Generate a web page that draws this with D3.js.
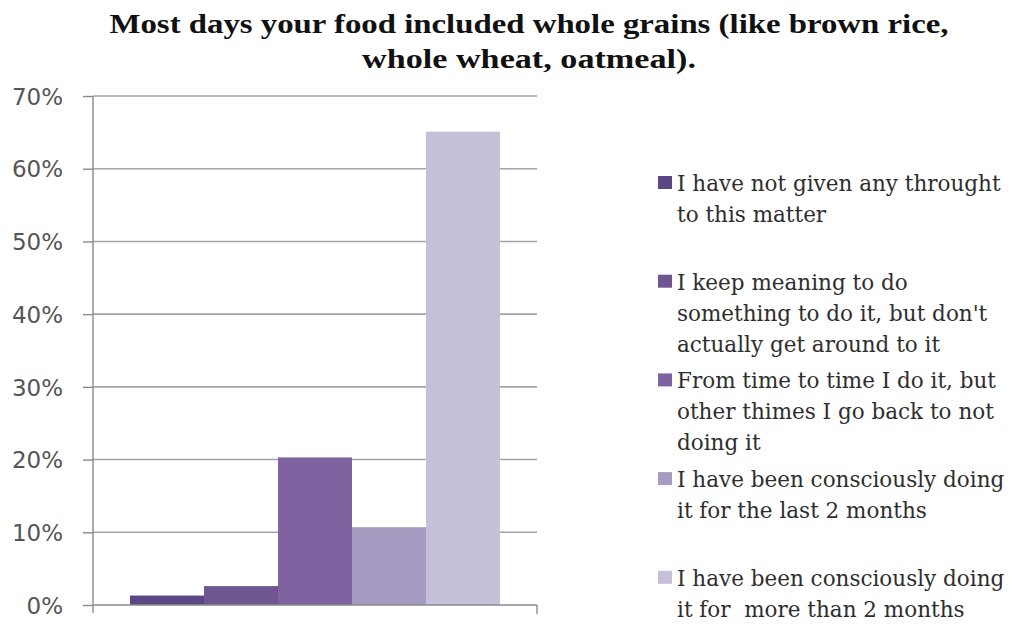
<!DOCTYPE html>
<html>
<head>
<meta charset="utf-8">
<script src="https://cdn.jsdelivr.net/npm/d3@7"></script>
<style>
  html, body { margin: 0; padding: 0; background: #ffffff; }
  svg { display: block; }
</style>
</head>
<body>
<svg id="chart" width="1016" height="624"></svg>
<script>
// Survey responses: share of respondents per stage of change
const titleLines = [
  "Most days your food included whole grains (like brown rice,",
  "whole wheat, oatmeal)."
];
const series = [
  "I have not given any throught to this matter",
  "I keep meaning to do something to do it, but don't actually get around to it",
  "From time to time I do it, but other thimes I go back to not doing it",
  "I have been consciously doing it for the last 2 months",
  "I have been consciously doing it for  more than 2 months"
];
const legendLines = [
  ["I have not given any throught", "to this matter"],
  ["I keep meaning to do", "something to do it, but don't", "actually get around to it"],
  ["From time to time I do it, but", "other thimes I go back to not", "doing it"],
  ["I have been consciously doing", "it for the last 2 months"],
  ["I have been consciously doing", "it for  more than 2 months"]
];
const values = [0.013, 0.026, 0.203, 0.107, 0.651];
const colors = ["#5a4784", "#6e5791", "#7f63a1", "#a69bc0", "#c6bfd8"];
const yTicks = [0, 0.1, 0.2, 0.3, 0.4, 0.5, 0.6, 0.7];

const svg = d3.select("#chart");

const plot = { left: 93, right: 537, top: 96, bottom: 605 };

const y = d3.scaleLinear().domain([0, 0.7]).range([plot.bottom, plot.top]);
const x = d3.scaleBand()
  .domain(series)
  .range([plot.left, plot.right])
  .paddingInner(0)
  .paddingOuter(0.5);

// Title
const title = svg.append("g");
const titleWidths = [839, 334];
titleLines.forEach((t, i) => {
  title.append("text")
    .attr("x", 529)
    .attr("y", 33 + i * 35)
    .attr("text-anchor", "middle")
    .attr("textLength", titleWidths[i])
    .attr("lengthAdjust", "spacingAndGlyphs")
    .style("font-family", "'Liberation Serif', 'Times New Roman', serif")
    .style("font-weight", "bold")
    .style("font-size", "28px")
    .style("fill", "#111111")
    .text(t);
});

// Horizontal gridlines
svg.append("g")
  .selectAll("line")
  .data(yTicks.filter(d => d > 0))
  .join("line")
  .attr("x1", plot.left)
  .attr("x2", plot.right)
  .attr("y1", d => y(d))
  .attr("y2", d => y(d))
  .attr("stroke", "#a3a3a3")
  .attr("stroke-width", 1.6);

// Value axis with outside ticks
const yAxis = d3.axisLeft(y)
  .tickValues(yTicks)
  .tickFormat(d3.format(".0%"))
  .tickSize(10)
  .tickPadding(20);

const yg = svg.append("g")
  .attr("transform", `translate(${plot.left},0)`)
  .call(yAxis);
yg.select(".domain")
  .attr("d", `M0,${plot.top}V${plot.bottom + 8}`)
  .attr("stroke", "#8a8a8a")
  .attr("stroke-width", 1.4);
yg.selectAll(".tick line")
  .attr("stroke", "#8a8a8a")
  .attr("stroke-width", 1.4);
yg.selectAll(".tick text")
  .attr("dy", "0.36em")
  .style("font-family", "'DejaVu Sans', Verdana, sans-serif")
  .style("font-size", "23px")
  .style("fill", "#555555");

// Bars
svg.append("g")
  .selectAll("rect")
  .data(series)
  .join("rect")
  .attr("x", d => x(d))
  .attr("width", x.bandwidth())
  .attr("y", (d, i) => y(values[i]))
  .attr("height", (d, i) => y(0) - y(values[i]))
  .attr("fill", (d, i) => colors[i]);

// Category axis baseline with end ticks
const xg = svg.append("g");
xg.append("line")
  .attr("x1", plot.left).attr("x2", plot.right)
  .attr("y1", y(0)).attr("y2", y(0))
  .attr("stroke", "#8a8a8a").attr("stroke-width", 1.6);
xg.append("line")
  .attr("x1", plot.right).attr("x2", plot.right)
  .attr("y1", y(0)).attr("y2", y(0) + 9)
  .attr("stroke", "#8a8a8a").attr("stroke-width", 1.4);

// Legend
const legend = svg.append("g");
const entryTop = 183, entryStep = 98.7, lineStep = 31;
legendLines.forEach((lines, i) => {
  const cy = entryTop + i * entryStep;
  legend.append("rect")
    .attr("x", 658)
    .attr("y", cy - 7)
    .attr("width", 14)
    .attr("height", 13)
    .attr("fill", colors[i]);
  lines.forEach((ln, j) => {
    legend.append("text")
      .attr("x", 677)
      .attr("y", cy + j * lineStep + 8)
      .style("font-family", "'DejaVu Serif', Georgia, serif")
      .style("font-size", "21.5px")
      .style("fill", "#2e2e2e")
      .style("white-space", "pre")
      .text(ln);
  });
});
</script>
</body>
</html>
